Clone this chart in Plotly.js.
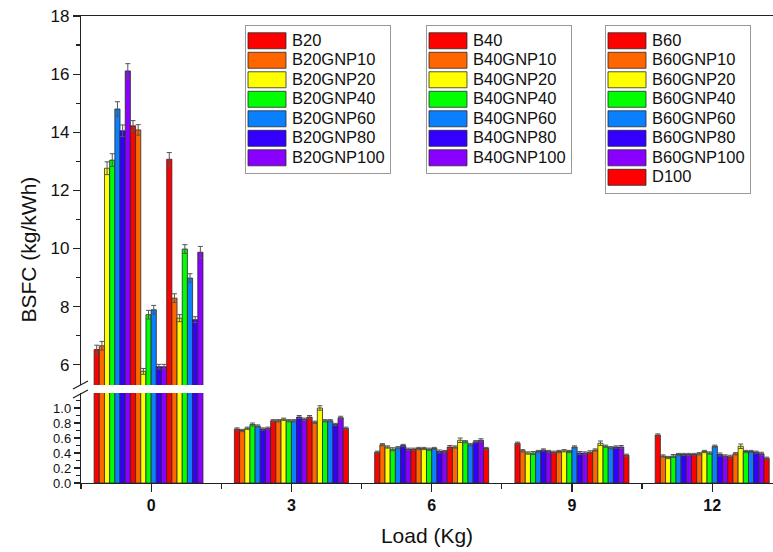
<!DOCTYPE html>
<html>
<head>
<meta charset="utf-8">
<script src="https://cdn.plot.ly/plotly-3.0.1.min.js"></script>
<style>
html,body{margin:0;padding:0;background:#fff;}
#chart{width:773px;height:552px;}
</style>
</head>
<body>
<div id="chart"></div>
<script>
// ---------- DATA ----------
const loads = [0, 3, 6, 9, 12];

const seriesNames = [
  'B20','B20GNP10','B20GNP20','B20GNP40','B20GNP60','B20GNP80','B20GNP100',
  'B40','B40GNP10','B40GNP20','B40GNP40','B40GNP60','B40GNP80','B40GNP100',
  'B60','B60GNP10','B60GNP20','B60GNP40','B60GNP60','B60GNP80','B60GNP100',
  'D100'
];

const b20       = [6.52, 0.72, 0.41, 0.53, 0.64];
const b20gnp10  = [6.65, 0.70, 0.51, 0.43, 0.36];
const b20gnp20  = [12.76, 0.73, 0.48, 0.40, 0.34];
const b20gnp40  = [13.04, 0.78, 0.45, 0.40, 0.36];
const b20gnp60  = [14.80, 0.76, 0.47, 0.42, 0.38];
const b20gnp80  = [14.05, 0.72, 0.50, 0.44, 0.38];
const b20gnp100 = [16.11, 0.73, 0.45, 0.42, 0.38];
const b40       = [14.22, 0.83, 0.45, 0.41, 0.38];
const b40gnp10  = [14.08, 0.83, 0.46, 0.42, 0.39];
const b40gnp20  = [5.77, 0.85, 0.46, 0.43, 0.42];
const b40gnp40  = [7.72, 0.83, 0.45, 0.42, 0.40];
const b40gnp60  = [7.89, 0.83, 0.46, 0.48, 0.49];
const b40gnp80  = [5.93, 0.88, 0.42, 0.40, 0.38];
const b40gnp100 = [5.93, 0.85, 0.42, 0.40, 0.36];
const b60       = [13.07, 0.88, 0.48, 0.41, 0.35];
const b60gnp10  = [8.29, 0.81, 0.48, 0.44, 0.39];
const b60gnp20  = [7.60, 1.00, 0.57, 0.53, 0.49];
const b60gnp40  = [9.98, 0.83, 0.55, 0.49, 0.42];
const b60gnp60  = [8.98, 0.83, 0.51, 0.47, 0.42];
const b60gnp80  = [7.55, 0.78, 0.55, 0.48, 0.41];
const b60gnp100 = [9.87, 0.87, 0.57, 0.48, 0.39];
const d100      = [null, 0.73, 0.46, 0.37, 0.33];

// error bar half-heights: at load 0, and at the other loads
const errAtZero = [0.15,0.15,0.22,0.22,0.25,0.20,0.25,0.18,0.18,0.10,0.15,0.15,0.08,0.08,0.23,0.15,0.12,0.15,0.15,0.10,0.20,0];
const errOther  = [0.015,0.015,0.015,0.02,0.015,0.015,0.015,0.015,0.015,0.015,0.015,0.015,0.02,0.015,0.02,0.015,0.03,0.015,0.015,0.015,0.02,0.015];

const seriesValues = [b20,b20gnp10,b20gnp20,b20gnp40,b20gnp60,b20gnp80,b20gnp100,
  b40,b40gnp10,b40gnp20,b40gnp40,b40gnp60,b40gnp80,b40gnp100,
  b60,b60gnp10,b60gnp20,b60gnp40,b60gnp60,b60gnp80,b60gnp100,d100];

const upperTicks = [6, 8, 10, 12, 14, 16, 18];
const lowerTicks = [0, 0.2, 0.4, 0.6, 0.8, 1.0];
const lowerTickText = ['0.0','0.2','0.4','0.6','0.8','1.0'];

// ---------- STYLE ----------
const palette = ['#FF0000','#FF6600','#FFFF00','#00FF00','#0A80FF','#3300FF','#8A00FF'];
const FONT = '"Liberation Sans", Arial, sans-serif';
const W = 773, H = 552, L = 81, R = 0, T = 16, B = 69;
const pw = W - L - R, ph = H - T - B;
const pxX = px => (px - L) / pw;
const pxY = py => (H - B - py) / ph;

function colorFor(i){ return i === 21 ? '#FF0000' : palette[i % 7]; }
function legendFor(i){ return i < 7 ? 'legend' : (i < 14 ? 'legend2' : 'legend3'); }

const traces = [];
seriesNames.forEach((name, i) => {
  const errs = [errAtZero[i], errOther[i], errOther[i], errOther[i], errOther[i]];
  const common = {
    type: 'bar', x: loads, y: seriesValues[i],
    marker: {color: colorFor(i), line: {color: '#2a2a2a', width: 0.8}},
    error_y: {type: 'data', array: errs, visible: true, color: '#555', thickness: 1, width: 2.5},
    hoverinfo: 'skip'
  };
  traces.push(Object.assign({}, common, {
    name: '<span style="font-size:16.5px">' + name + '</span>',
    xaxis: 'x2', yaxis: 'y', legend: legendFor(i), showlegend: true, legendgroup: name
  }));
  traces.push(Object.assign({}, common, {name: name, xaxis: 'x', yaxis: 'y2', showlegend: false, legendgroup: name}));
});

const legendBase = {
  xanchor: 'left', yanchor: 'top', bgcolor: '#fff', bordercolor: '#999', borderwidth: 1,
  font: {family: FONT, size: 12.7, color: '#111'}, itemwidth: 36, tracegroupgap: 0, traceorder: 'normal'
};

const axisLine = {showline: true, linecolor: '#222', linewidth: 1.2, showgrid: false, zeroline: false, tickcolor: '#222', tickwidth: 1.2};

const layout = {
  width: W, height: H,
  margin: {l: L, r: R, t: T, b: B, pad: 0},
  paper_bgcolor: '#fff', plot_bgcolor: '#fff',
  font: {family: FONT, color: '#111'},
  barmode: 'group', bargap: 0.187, bargroupgap: 0,
  xaxis: Object.assign({}, axisLine, {
    anchor: 'y2', range: [-1.5, 13.3], tickmode: 'linear', tick0: 0, dtick: 3,
    ticks: 'outside', ticklen: 8,
    minor: {tickmode: 'linear', tick0: 0, dtick: 1.5, ticks: 'outside', ticklen: 5, tickcolor: '#222', tickwidth: 1.2},
    tickfont: {family: FONT, size: 16, weight: 'bold', color: '#111'},
    title: {text: 'Load (Kg)', font: {family: FONT, size: 21, color: '#111'}, standoff: 14}
  }),
  xaxis2: Object.assign({}, axisLine, {
    anchor: 'y', matches: 'x', side: 'top', showticklabels: false, ticks: ''
  }),
  yaxis: Object.assign({}, axisLine, {
    domain: [pxY(385), 1], range: [5.3, 18], tickmode: 'array', tickvals: upperTicks,
    ticks: 'outside', ticklen: 7,
    minor: {tickmode: 'array', tickvals: [7, 9, 11, 13, 15, 17], ticks: 'outside', ticklen: 4, tickcolor: '#222', tickwidth: 1.2},
    tickfont: {family: FONT, size: 17, color: '#111'}
  }),
  yaxis2: Object.assign({}, axisLine, {
    domain: [0, pxY(393)], range: [0, 1.2], tickmode: 'array', tickvals: lowerTicks, ticktext: lowerTickText,
    ticks: 'outside', ticklen: 6,
    minor: {tickmode: 'array', tickvals: [0.1, 0.3, 0.5, 0.7, 0.9, 1.1], ticks: 'outside', ticklen: 4, tickcolor: '#222', tickwidth: 1.2},
    tickfont: {family: FONT, size: 13, color: '#111'}
  }),
  legend:  Object.assign({}, legendBase, {x: pxX(245), y: pxY(25)}),
  legend2: Object.assign({}, legendBase, {x: pxX(426), y: pxY(25)}),
  legend3: Object.assign({}, legendBase, {x: pxX(605), y: pxY(25)}),
  annotations: [{
    text: 'BSFC (kg/kWh)', xref: 'paper', yref: 'paper', x: pxX(28), y: 0.5,
    xanchor: 'center', yanchor: 'middle', textangle: -90, showarrow: false,
    font: {family: FONT, size: 21, color: '#111'}
  }],
  shapes: [
    {type: 'line', xref: 'paper', yref: 'paper', x0: pxX(73), y0: pxY(389), x1: pxX(88), y1: pxY(381), line: {color: '#222', width: 1.2}},
    {type: 'line', xref: 'paper', yref: 'paper', x0: pxX(73), y0: pxY(398), x1: pxX(88), y1: pxY(390), line: {color: '#222', width: 1.2}}
  ]
};

Plotly.newPlot('chart', traces, layout, {displayModeBar: false, staticPlot: true}).then(gd => {
  gd.querySelectorAll('.legendpoints path').forEach(p => {
    p.setAttribute('d', 'M-21,8H17V-8H-21Z');
  });
});
</script>
</body>
</html>
